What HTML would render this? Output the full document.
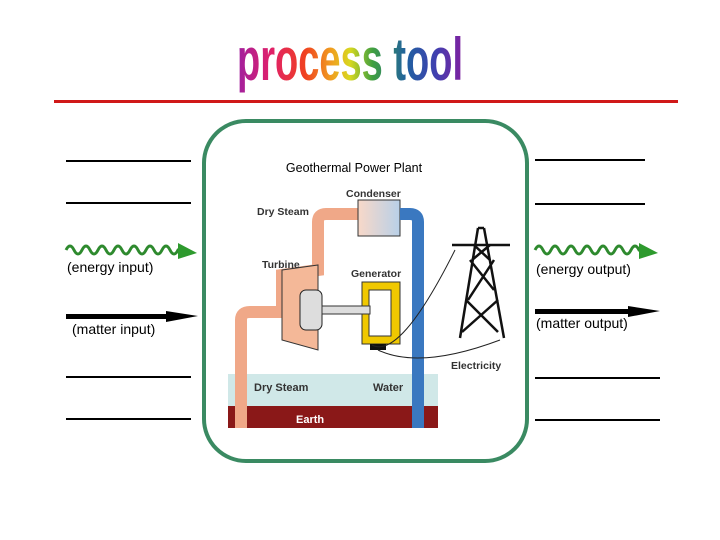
<!DOCTYPE html>
<html><head><meta charset="utf-8"><style>
body{margin:0;background:#fff;}
svg{display:block;font-family:"Liberation Sans",Arial,sans-serif;}
</style></head><body>
<svg width="720" height="540" viewBox="0 0 720 540">
<defs>
<linearGradient id="rb" x1="0" x2="1">
<stop offset="0" stop-color="#a020a0"/><stop offset="0.15" stop-color="#e0206a"/><stop offset="0.3" stop-color="#f04020"/><stop offset="0.42" stop-color="#f0a020"/><stop offset="0.5" stop-color="#d8d820"/><stop offset="0.6" stop-color="#40a040"/><stop offset="0.75" stop-color="#2060a0"/><stop offset="0.88" stop-color="#4040b0"/><stop offset="1" stop-color="#8020a0"/>
</linearGradient>
<linearGradient id="cond" x1="0" x2="1"><stop offset="0" stop-color="#f8d8c8"/><stop offset="1" stop-color="#b8d0e8"/></linearGradient>
</defs>
<text x="350" y="80" text-anchor="middle" font-size="60" font-weight="bold" fill="url(#rb)" style="font-family:'Liberation Sans Narrow','Liberation Sans',sans-serif" textLength="226" lengthAdjust="spacingAndGlyphs">process tool</text>
<rect x="54" y="100" width="624" height="3" fill="#d01818"/>
<rect x="204" y="121" width="323" height="340" rx="42" fill="none" stroke="#3a8a62" stroke-width="4"/>
<text x="354" y="172" text-anchor="middle" font-size="12.5">Geothermal Power Plant</text>
<g stroke="#000" stroke-width="2">
<line x1="66" y1="161" x2="191" y2="161"/><line x1="66" y1="203" x2="191" y2="203"/>
<line x1="66" y1="377" x2="191" y2="377"/><line x1="66" y1="419" x2="191" y2="419"/>
<line x1="535" y1="160" x2="645" y2="160"/><line x1="535" y1="204" x2="645" y2="204"/>
<line x1="535" y1="378" x2="660" y2="378"/><line x1="535" y1="420" x2="660" y2="420"/>
</g>
<path d="M66 250 q4 -8 8 0 q4 8 8 0 q4 -8 8 0 q4 8 8 0 q4 -8 8 0 q4 8 8 0 q4 -8 8 0 q4 8 8 0 q4 -8 8 0 q4 8 8 0 q4 -8 8 0 q4 8 8 0 q4 -8 8 0 q4 8 8 0 l6 0" fill="none" stroke="#2e8a2e" stroke-width="3"/>
<polygon points="178,243 197,253 178,259" fill="#2e9a2e"/>
<path d="M535 250 q4 -8 8 0 q4 8 8 0 q4 -8 8 0 q4 8 8 0 q4 -8 8 0 q4 8 8 0 q4 -8 8 0 q4 8 8 0 q4 -8 8 0 q4 8 8 0 q4 -8 8 0 q4 8 8 0 q4 -8 8 0 l4 0" fill="none" stroke="#2e8a2e" stroke-width="3"/>
<polygon points="639,243 658,253 639,259" fill="#2e9a2e"/>
<rect x="66" y="314" width="112" height="5" fill="#000"/><polygon points="166,311 198,316 166,322" fill="#000"/>
<rect x="535" y="309" width="105" height="5" fill="#000"/><polygon points="628,306 660,311 628,317" fill="#000"/>
<text x="67" y="272" font-size="14">(energy input)</text>
<text x="72" y="334" font-size="14">(matter input)</text>
<text x="536" y="274" font-size="14">(energy output)</text>
<text x="536" y="328" font-size="14">(matter output)</text>
<!-- plant -->
<rect x="228" y="374" width="210" height="32" fill="#d0e8e8"/>
<rect x="228" y="406" width="210" height="22" fill="#8a1818"/>
<text x="296" y="423" font-size="11" font-weight="bold" fill="#fff">Earth</text>
<text x="254" y="391" font-size="11" font-weight="bold" fill="#333">Dry Steam</text>
<text x="373" y="391" font-size="11" font-weight="bold" fill="#333">Water</text>
<path d="M241 428 V320 Q241 312 250 312 H282 V275 L318 270 V222 Q318 214 326 214 H358" fill="none" stroke="#f0a888" stroke-width="12"/>
<path d="M282 270 L318 265 V350 L282 340 Z" fill="#f4b898" stroke="#333" stroke-width="1"/>
<rect x="358" y="200" width="42" height="36" fill="url(#cond)" stroke="#333" stroke-width="1"/>
<path d="M400 214 H410 Q418 214 418 222 V428" fill="none" stroke="#3a78c0" stroke-width="12"/>
<rect x="362" y="282" width="38" height="62" fill="#f0c800" stroke="#333"/>
<rect x="369" y="290" width="22" height="46" fill="#fff" stroke="#333"/>
<rect x="300" y="290" width="22" height="40" rx="6" fill="#ddd" stroke="#222"/>
<rect x="322" y="306" width="48" height="8" fill="#ddd" stroke="#333"/>
<rect x="370" y="344" width="16" height="6" fill="#111"/>
<text x="346" y="197" font-size="10.5" font-weight="bold" fill="#333">Condenser</text>
<text x="257" y="215" font-size="10.5" font-weight="bold" fill="#333">Dry Steam</text>
<text x="262" y="268" font-size="10.5" font-weight="bold" fill="#333">Turbine</text>
<text x="351" y="277" font-size="10.5" font-weight="bold" fill="#333">Generator</text>
<text x="451" y="369" font-size="10.5" font-weight="bold" fill="#333">Electricity</text>
<g stroke="#111" stroke-width="2.5" fill="none">
<path d="M478 228 L460 338 M484 228 L504 338 M452 245 H510 M478 228 H484"/>
<path d="M470 260 L494 290 M494 260 L468 300 M466 300 L498 332 M498 300 L462 332 M474 245 L490 260 M490 245 L472 260"/>
</g>
<path d="M378 350 Q420 370 500 340" fill="none" stroke="#222" stroke-width="1"/>
<path d="M372 345 Q400 360 455 250" fill="none" stroke="#222" stroke-width="1"/>
</svg>
</body></html>
